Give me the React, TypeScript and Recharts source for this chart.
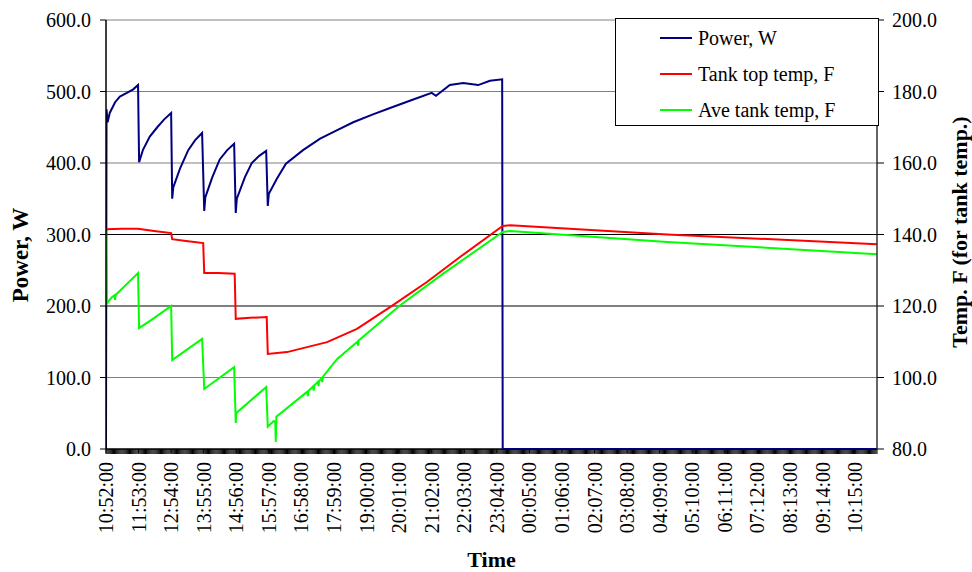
import React from "react";
import { LineChart, Line, XAxis, YAxis, ReferenceLine, Legend } from "recharts";

// minutes since 10:52:00, value
const powerSeries: [number, number][] = [
  [0, 0], [1, 475], [3, 457], [7, 470], [17, 485], [26, 493], [39, 498], [51, 503], [60, 509],
  [62, 401], [69, 418], [82, 437], [96, 450], [109, 461], [122, 470],
  [124, 350], [126, 366], [139, 393], [154, 418], [167, 432], [180, 442],
  [184, 333], [186, 352], [199, 380], [213, 405], [227, 418], [240, 427],
  [243, 330], [245, 350], [260, 380], [273, 400], [287, 410], [300, 417],
  [303, 340], [305, 357], [320, 378], [337, 399], [369, 418], [401, 434], [433, 446],
  [463, 457], [500, 468], [532, 477], [569, 487], [610, 498], [618, 494], [644, 509],
  [669, 512], [697, 509], [719, 515], [742, 517], [743, 0], [1444, 0],
];

const tankTopSeries: [number, number][] = [
  [0, 141.5], [30, 141.6], [60, 141.6], [90, 141.0], [122, 140.4],
  [124, 138.7], [150, 138.2], [182, 137.6],
  [184, 129.2], [210, 129.2], [241, 129.0],
  [243, 116.4], [270, 116.7], [301, 116.9],
  [303, 106.6], [339, 107.1], [414, 109.9], [470, 113.6], [532, 119.7],
  [601, 126.7], [663, 133.7], [743, 142.4], [757, 142.6], [1051, 140.0], [1444, 137.3],
];

const aveTankSeries: [number, number][] = [
  [0, 141], [2, 120.8], [10, 122.3], [16, 123.0], [17, 121.7], [18, 123.1], [60, 129.2],
  [62, 113.8], [90, 116.6], [122, 120.0],
  [124, 104.9], [180, 110.8],
  [184, 96.8], [240, 102.9],
  [243, 87.3], [244, 90.1], [300, 97.3],
  [303, 86.2], [314, 87.8], [317, 87.5], [318, 82.0], [319, 89.0],
  [376, 95.9], [377, 96.0], [378, 94.8], [379, 96.2], [388, 97.5], [389, 96.3], [390, 97.8],
  [397, 98.8], [398, 97.6], [399, 99.0], [404, 99.8], [405, 98.7], [406, 100.2],
  [433, 105.2], [471, 110.0], [472, 108.9], [473, 110.4], [476, 110.7],
  [551, 120.2], [631, 129.0], [743, 140.7], [757, 141.0], [1051, 137.9], [1444, 134.5],
];

const timeLabels = [
  "10:52:00", "11:53:00", "12:54:00", "13:55:00", "14:56:00", "15:57:00",
  "16:58:00", "17:59:00", "19:00:00", "20:01:00", "21:02:00", "22:03:00",
  "23:04:00", "00:05:00", "01:06:00", "02:07:00", "03:08:00", "04:09:00",
  "05:10:00", "06:11:00", "07:12:00", "08:13:00", "09:14:00", "10:15:00",
];

const powerTicks = [0, 100, 200, 300, 400, 500, 600];
const tempTicks = [80, 100, 120, 140, 160, 180, 200];

const LABEL_STEP = 61;
const END_MIN = 1444;
const X_TICK_SIZE = 5;

const toRows = (s: [number, number][]) => s.map(([t, v]) => ({ t, v }));

const labelTicks = timeLabels.map((_, i) => i * LABEL_STEP);
const minorTicks = Array.from({ length: Math.floor(END_MIN / 2) + 1 }, (_, i) => i * 2);

const FONT = '"Liberation Serif", "Times New Roman", serif';

const TimeTick = (props: any) => {
  const { x, y, payload } = props;
  const label = timeLabels[Math.round(Number(payload.value) / LABEL_STEP)];
  return (
    <text
      transform={`translate(${x},${y}) rotate(-90)`}
      textAnchor="end"
      dy="0.35em"
      fontSize={20}
      fontFamily={FONT}
      fill="#000"
    >
      {label}
    </text>
  );
};

// axis title plus the dense category tick comb under the axis (one mark every 2 min)
const TimeAxisLabel = (props: any) => {
  const vb = props.viewBox || {};
  const x0 = typeof vb.x === "number" ? vb.x : 106;
  const w = typeof vb.width === "number" ? vb.width : 771;
  const yTop = typeof vb.y === "number" ? vb.y : 449;
  let d = "";
  for (let m = 0; m <= END_MIN; m += 2) {
    d += `M${(x0 + (m / END_MIN) * w).toFixed(2)},${yTop}v${X_TICK_SIZE}`;
  }
  return (
    <g>
      <path d={d} stroke="#000" strokeWidth={1} fill="none" />
      <text x={x0 + w / 2} y={567} textAnchor="middle" fontSize={22} fontWeight="bold" fontFamily={FONT} fill="#000">
        Time
      </text>
    </g>
  );
};

const legendItems = [
  { name: "Power, W", color: "#000080" },
  { name: "Tank top temp, F", color: "#ff0000" },
  { name: "Ave tank temp, F", color: "#00ff00" },
];

const LegendBox = () => (
  <div
    style={{
      width: 264,
      height: 108,
      boxSizing: "border-box",
      border: "1px solid #000",
      background: "#fff",
      fontFamily: FONT,
      fontSize: 20,
      paddingTop: 1,
    }}
  >
    {legendItems.map((it) => (
      <div key={it.name} style={{ height: 36, display: "flex", alignItems: "center" }}>
        <span style={{ marginLeft: 44, width: 32, height: 2, background: it.color, display: "inline-block" }} />
        <span style={{ marginLeft: 6, color: "#000" }}>{it.name}</span>
      </div>
    ))}
  </div>
);

const tickStyle = { fontSize: 20, fontFamily: FONT, fill: "#000" };

export default function App() {
  return (
    <div style={{ position: "absolute", left: 0, top: 0, width: 972, height: 572, background: "#fff" }}>
      <LineChart width={972} height={572} margin={{ top: 20, right: 0, bottom: 0, left: 0 }}>
        <XAxis
          xAxisId="comb"
          type="number"
          domain={[0, END_MIN]}
          ticks={minorTicks}
          interval={0}
          height={1}
          tickSize={X_TICK_SIZE}
          tick={false}
          axisLine={false}
          tickLine={{ stroke: "#000" }}
          allowDataOverflow
        />
        <XAxis
          type="number"
          dataKey="t"
          domain={[0, END_MIN]}
          ticks={labelTicks}
          interval={0}
          height={122}
          tickSize={X_TICK_SIZE - 1}
          tickMargin={9}
          tick={(p: any) => <TimeTick {...p} />}
          axisLine={false}
          tickLine={{ stroke: "#000" }}
          allowDataOverflow
          label={{ content: (p: any) => <TimeAxisLabel {...p} /> }}
        />
        <YAxis
          yAxisId="p"
          width={106}
          domain={[0, 600]}
          ticks={powerTicks}
          tickFormatter={(v: number) => v.toFixed(1)}
          tick={tickStyle}
          tickSize={6}
          tickMargin={9}
          axisLine={{ stroke: "#000", strokeWidth: 1.5 }}
          tickLine={{ stroke: "#000" }}
          label={{
            content: () => (
              <text
                transform="translate(20,255) rotate(-90)"
                textAnchor="middle"
                dy="0.35em"
                fontSize={23}
                fontWeight="bold"
                fontFamily={FONT}
                fill="#000"
              >
                Power, W
              </text>
            ),
          }}
        />
        <YAxis
          yAxisId="t"
          orientation="right"
          width={95}
          domain={[80, 200]}
          ticks={tempTicks}
          tickFormatter={(v: number) => v.toFixed(1)}
          tick={tickStyle}
          tickSize={7}
          tickMargin={8}
          axisLine={{ stroke: "#333", strokeWidth: 1.5 }}
          tickLine={{ stroke: "#000" }}
          label={{
            content: () => (
              <text
                transform="translate(959,232) rotate(-90)"
                textAnchor="middle"
                dy="0.35em"
                fontSize={22}
                fontWeight="bold"
                fontFamily={FONT}
                fill="#000"
              >
                Temp. F (for tank temp.)
              </text>
            ),
          }}
        />
        <ReferenceLine yAxisId="p" y={0} stroke="#000" strokeWidth={1.5} />
        <ReferenceLine yAxisId="p" y={100} stroke="#808080" />
        <ReferenceLine yAxisId="p" y={200} stroke="#000" />
        <ReferenceLine yAxisId="p" y={300} stroke="#000" />
        <ReferenceLine yAxisId="p" y={400} stroke="#808080" />
        <ReferenceLine yAxisId="p" y={500} stroke="#808080" />
        <ReferenceLine yAxisId="p" y={600} stroke="#808080" />
        <Line
          yAxisId="p"
          data={toRows(powerSeries)}
          dataKey="v"
          name="Power, W"
          stroke="#000080"
          strokeWidth={2}
          dot={false}
          type="linear"
          isAnimationActive={false}
        />
        <Line
          yAxisId="t"
          data={toRows(tankTopSeries)}
          dataKey="v"
          name="Tank top temp, F"
          stroke="#ff0000"
          strokeWidth={2}
          dot={false}
          type="linear"
          isAnimationActive={false}
        />
        <Line
          yAxisId="t"
          data={toRows(aveTankSeries)}
          dataKey="v"
          name="Ave tank temp, F"
          stroke="#00ff00"
          strokeWidth={2}
          dot={false}
          type="linear"
          isAnimationActive={false}
        />
        <Legend
          layout="vertical"
          align="center"
          verticalAlign="middle"
          content={() => <LegendBox />}
          wrapperStyle={{ left: 615, top: 18, width: 264, height: 108 }}
        />
      </LineChart>
    </div>
  );
}
